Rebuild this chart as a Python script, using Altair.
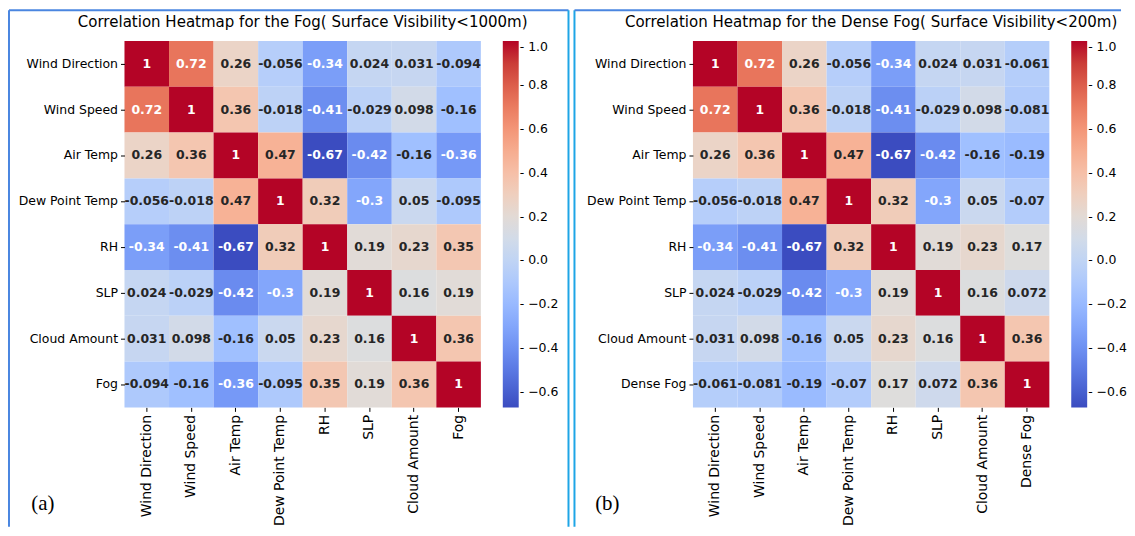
import altair as alt
import pandas as pd

# ---------------- data ----------------
names_a = ["Wind Direction", "Wind Speed", "Air Temp", "Dew Point Temp",
           "RH", "SLP", "Cloud Amount", "Fog"]
names_b = ["Wind Direction", "Wind Speed", "Air Temp", "Dew Point Temp",
           "RH", "SLP", "Cloud Amount", "Dense Fog"]

corr_a = [
    [1, 0.72, 0.26, -0.056, -0.34, 0.024, 0.031, -0.094],
    [0.72, 1, 0.36, -0.018, -0.41, -0.029, 0.098, -0.16],
    [0.26, 0.36, 1, 0.47, -0.67, -0.42, -0.16, -0.36],
    [-0.056, -0.018, 0.47, 1, 0.32, -0.3, 0.05, -0.095],
    [-0.34, -0.41, -0.67, 0.32, 1, 0.19, 0.23, 0.35],
    [0.024, -0.029, -0.42, -0.3, 0.19, 1, 0.16, 0.19],
    [0.031, 0.098, -0.16, 0.05, 0.23, 0.16, 1, 0.36],
    [-0.094, -0.16, -0.36, -0.095, 0.35, 0.19, 0.36, 1],
]
corr_b = [
    [1, 0.72, 0.26, -0.056, -0.34, 0.024, 0.031, -0.061],
    [0.72, 1, 0.36, -0.018, -0.41, -0.029, 0.098, -0.081],
    [0.26, 0.36, 1, 0.47, -0.67, -0.42, -0.16, -0.19],
    [-0.056, -0.018, 0.47, 1, 0.32, -0.3, 0.05, -0.07],
    [-0.34, -0.41, -0.67, 0.32, 1, 0.19, 0.23, 0.17],
    [0.024, -0.029, -0.42, -0.3, 0.19, 1, 0.16, 0.072],
    [0.031, 0.098, -0.16, 0.05, 0.23, 0.16, 1, 0.36],
    [-0.061, -0.081, -0.19, -0.07, 0.17, 0.072, 0.36, 1],
]

title_a = "Correlation Heatmap for the Fog( Surface Visibility<1000m)"
title_b = "Correlation Heatmap for the Dense Fog( Surface Visibility<200m)"
colorbar_ticks = [-0.6, -0.4, -0.2, 0.0, 0.2, 0.4, 0.6, 0.8, 1.0]

# matplotlib "coolwarm" reference colours (17 evenly spaced samples)
coolwarm = ["#3b4cc0", "#4d68d7", "#6282ea", "#779af7", "#8db0fe", "#a3c2ff",
            "#b8d0f9", "#ccd9ee", "#dddddd", "#ecd3c5", "#f5c4ad", "#f7b194",
            "#f49a7b", "#ec7f63", "#de604d", "#cb3e38", "#b40426"]
vmin, vmax = -0.67, 1.0
stops = [vmin + (vmax - vmin) * i / (len(coolwarm) - 1) for i in range(len(coolwarm))]

W, H = 358, 368
BLUE = "#4a86e0"
CYAN = "#1ea5e6"
FONT = "DejaVu Sans"


def long_df(names, mat):
    rows = []
    for i, r in enumerate(names):
        for j, c in enumerate(names):
            v = mat[i][j]
            rows.append({"row": r, "col": c, "value": v, "label": format(v, ".2g")})
    return pd.DataFrame(rows)


def one(values):
    return alt.Data(values=[values])


def panel(names, mat, title, tag, frame):
    df = long_df(names, mat)
    x = alt.X("col:N", sort=names,
              scale=alt.Scale(paddingInner=0, paddingOuter=0),
              axis=alt.Axis(title=None, labelAngle=270, domain=False,
                            tickSize=4, tickColor="black", labelColor="black",
                            labelFontSize=14, labelFont=FONT, labelPadding=3))
    y = alt.Y("row:N", sort=names,
              scale=alt.Scale(paddingInner=0, paddingOuter=0),
              axis=alt.Axis(title=None, domain=False, tickSize=4,
                            tickColor="black", labelColor="black",
                            labelFontSize=12.5, labelFont=FONT, labelPadding=3))
    rect = alt.Chart(df).mark_rect().encode(
        x=x, y=y,
        color=alt.Color("value:Q",
                        scale=alt.Scale(domain=stops, range=coolwarm, interpolate="rgb"),
                        legend=alt.Legend(title=None, orient="none", legendX=380, legendY=0,
                                          direction="vertical", gradientLength=H,
                                          gradientThickness=16, gradientStrokeWidth=0,
                                          values=colorbar_ticks, format=".1f",
                                          labelExpr="'- ' + datum.label",
                                          labelFontSize=12.5, labelFont=FONT,
                                          labelColor="black", labelOverlap=False,
                                          labelBaseline="middle", labelOffset=1)),
    )
    text = alt.Chart(df).mark_text(font=FONT, fontWeight="bold", fontSize=12.5).encode(
        x=x, y=y, text="label:N",
        color=alt.condition("datum.value > 0.6 || datum.value < -0.25",
                            alt.value("white"), alt.value("#262626")),
    )
    ttl = alt.Chart(one({"t": title})).mark_text(
        font=FONT, fontSize=15.1, color="black").encode(
        text="t:N", x=alt.value(W / 2), y=alt.value(-19))
    tg = alt.Chart(one({"t": tag})).mark_text(
        font="Liberation Serif", fontSize=21, color="black").encode(
        text="t:N", x=alt.value(frame["tagx"]), y=alt.value(465))
    layers = [rect, text, ttl, tg]
    for (x1, y1, x2, y2, col) in frame["lines"]:
        enc = {"x": alt.value(x1), "y": alt.value(y1)}
        if x2 is not None:
            enc["x2"] = alt.value(x2)
        if y2 is not None:
            enc["y2"] = alt.value(y2)
        layers.append(alt.Chart(one({"k": 0})).mark_rule(color=col, strokeWidth=2).encode(**enc))
    return alt.layer(*layers).properties(width=W, height=H)


frame_a = {"tagx": -82, "lines": [
    (-116, -31, None, 488, BLUE),
    (-116, -31, 446, None, BLUE),
    (446, -31, None, 488, CYAN),
]}
frame_b = {"tagx": -86, "lines": [
    (-119, -31, None, 488, CYAN),
    (-119, -31, 430, None, BLUE),
]}

left = panel(names_a, corr_a, title_a, "(a)", frame_a)
right = panel(names_b, corr_b, title_b, "(b)", frame_b)

chart = alt.hconcat(left, right, spacing=4).resolve_scale(color="independent").properties(
    padding=0, background="white"
).configure_view(stroke=None)

chart.save("out.html", embed_options={"renderer": "svg", "actions": False})
